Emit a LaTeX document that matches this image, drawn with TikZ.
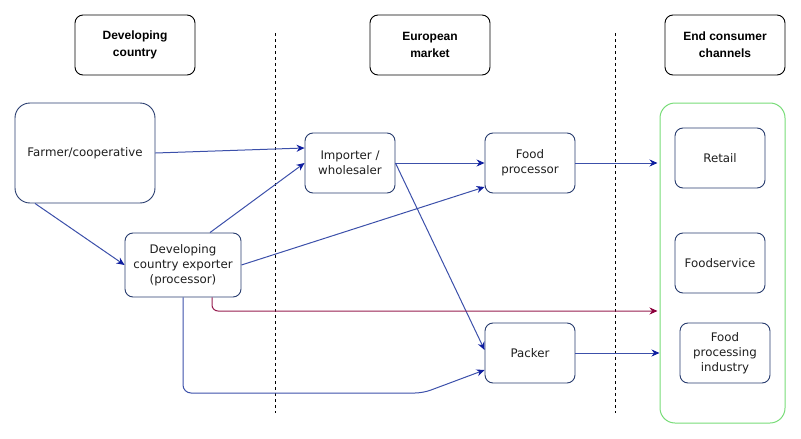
\documentclass[tikz,border=0pt]{standalone}
\usepackage{fontspec}
\setmainfont{DejaVu Sans}
\newfontfamily\hdrfont{Liberation Sans}
\usetikzlibrary{arrows.meta,calc}
\definecolor{boxc}{RGB}{40,60,110}
\definecolor{linec}{RGB}{60,80,170}
\definecolor{tipc}{RGB}{15,30,160}
\definecolor{magc}{RGB}{150,30,80}
\definecolor{magtip}{RGB}{140,0,60}
\definecolor{grnc}{RGB}{120,220,120}
\definecolor{txtc}{RGB}{30,30,30}
\tikzset{
  body/.style={font=\fontsize{11.8}{15}\selectfont, text=txtc},
  box/.style={draw=boxc, rounded corners=8pt, line width=0.9pt, align=center, inner sep=0pt, body, minimum width=90pt, minimum height=60pt},
  hdr/.style={draw=black, rounded corners=8pt, line width=0.9pt, align=center, inner sep=0pt, minimum width=120pt, minimum height=60pt, font=\hdrfont\bfseries\fontsize{12}{17}\selectfont},
  arr/.style={draw=linec, line width=1pt, -{Stealth[length=8pt,width=7pt,color=tipc]}},
  arrm/.style={draw=magc, line width=1pt, -{Stealth[length=8pt,width=7pt,color=magtip]}},
  sep/.style={draw=black, dashed, line width=0.7pt},
}
\begin{document}
\begin{tikzpicture}[x=1pt,y=-1pt]
\useasboundingbox (0,0) rectangle (801,439);
% headers
\node[hdr] (h1) at (135,45) {Developing\\country};
\node[hdr] (h2) at (430,45) {European\\market};
\node[hdr] (h3) at (725,45) {End consumer\\channels};
% separators
\coordinate (s1a) at (275,33); \coordinate (s1b) at (275,413);
\coordinate (s2a) at (615,33); \coordinate (s2b) at (615,413);
\draw[sep] (s1a) -- (s1b);
\draw[sep] (s2a) -- (s2b);
% green container
\node[draw=grnc, line width=1pt, rounded corners=15pt, minimum width=125pt, minimum height=320pt, inner sep=0pt] (grn) at (722.5,263) {};
% nodes
\node[box, minimum width=140pt, minimum height=100pt, rounded corners=15pt] (far) at (85,153) {Farmer/cooperative};
\node[box, minimum width=116pt, minimum height=64pt] (exp) at (183,265) {Developing\\country exporter\\(processor)};
\node[box] (imp) at (350,163) {Importer /\\wholesaler};
\node[box] (fp) at (530,163) {Food\\processor};
\node[box] (pk) at (530,353) {Packer};
\node[box] (ret) at (720,158) {Retail};
\node[box] (fs) at (720,263) {Foodservice};
\node[box] (fpi) at (725,353) {Food\\processing\\industry};
% connectors
\draw[arr] (far.east) -- ([yshift=15pt]imp.west);
\draw[arr] ([xshift=-50pt]far.south) -- (exp.west);
\draw[arr] ([xshift=27pt]exp.north) -- (imp.west);
\draw[arr] (exp.east) -- ([yshift=-24pt]fp.west);
\draw[arr] (imp.east) -- (fp.west);
\draw[arr] (imp.east) -- ([yshift=3pt]pk.west);
\draw[arr, shorten >=2pt] (fp.east) -- (fp.east -| grn.west);
\draw[arrm, rounded corners=6pt, shorten >=2pt] ([xshift=29pt]exp.south) |- ([yshift=-48pt]grn.west);
\coordinate (k) at (423,393);
\draw[arr, rounded corners=8pt] (exp.south) |- (k) -- ([yshift=-17pt]pk.west);
\draw[arr] (pk.east) -- (pk.east -| grn.west);
\end{tikzpicture}
\end{document}
